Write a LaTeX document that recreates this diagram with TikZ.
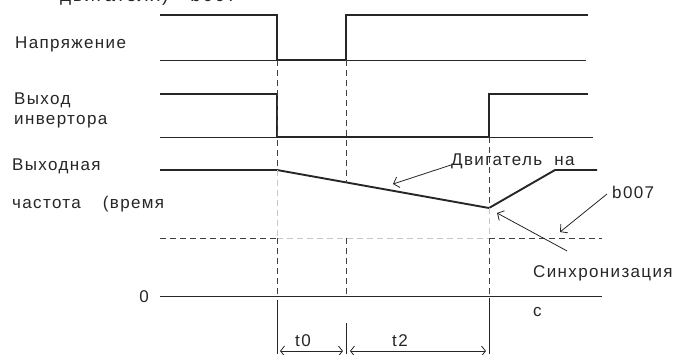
\documentclass[tikz,border=0pt]{standalone}
\usepackage{fontspec}
\setmainfont[LetterSpace=8]{Liberation Sans}
\usetikzlibrary{arrows.meta,positioning}

\begin{document}
\begin{tikzpicture}[
  x=1pt, y=-1pt,
  every node/.style={font=\fontsize{17}{19}\selectfont, inner sep=0pt, anchor=base west, text=black!85},
  sig/.style={line width=1.9pt, draw=black!85, line join=miter},
  base/.style={line width=0.9pt, draw=black!85},
  guide/.style={dash pattern=on 6pt off 4pt, line width=0.9pt, draw=black!75},
  faint/.style={dash pattern=on 6pt off 4pt, line width=0.8pt, draw=black!22},
  arr/.style={-{Straight Barb[length=5pt,width=11pt]}, line width=0.8pt, draw=black!85},
  dim/.style={{Straight Barb[length=4pt,width=10pt]}-{Straight Barb[length=4pt,width=10pt]}, line width=0.8pt, draw=black!85}
]
\useasboundingbox (0,0) rectangle (679,354);

%% Title (cut at the top)
\node[font=\fontsize{19}{21}\selectfont] (title) at (60,1) {двигателя)\hspace{22pt}b007};

%% Voltage
\node (volt) at (15,48) {Напряжение};
\draw[base] (160,60) -- (586,60);
\draw[sig] (160,15) -- (277,15) -- (277,60) -- (346,60) -- (346,15) -- (588,15);

%% Inverter output
\node (inv1) at (14,104) {Выход};
\node (inv2) at (14,124) {инвертора};
\draw[base] (160,137) -- (593,137);
\draw[sig] (160,94) -- (277,94) -- (277,137) -- (489,137) -- (489,94) -- (588,94);

%% Output frequency
\node (freq1) at (12,170) {Выходная};
\node (freq2) at (12,208) {частота\hspace{22pt}(время};
\coordinate (slope) at (393,184);
\coordinate (sync) at (497,213);
\coordinate (level) at (560,232);
\draw[sig] (160,170) -- (277,170) -- (489,208) -- (555,170) -- (597,170);
\draw[guide] (160,238) -- (277,238);
\draw[faint] (277,238) -- (489,238);
\draw[guide] (489,238) -- (602,238);

%% Zero axis
\node[anchor=base east] (zero) at (149,302) {0};
\node (unit) at (533,316) {с};
\draw[base] (160,296) -- (602,296);

%% Time marks
\draw[guide] (277,60) -- (277,170);
\draw[faint] (277,170) -- (277,238);
\draw[guide] (277,238) -- (277,296);
\draw[guide] (346,60) -- (346,183);
\draw[guide] (346,238) -- (346,296);
\draw[guide] (489,137) -- (489,208);
\draw[faint] (489,208) -- (489,238);
\draw[guide] (489,238) -- (489,296);
\draw[base] (277,300) -- (277,354);
\draw[base] (346,323) -- (346,354);
\draw[base] (489,298) -- (489,354);

%% Intervals
\node (tzero) at (295,346) {t0};
\node (ttwo) at (392,346) {t2};
\draw[dim] (280,351) -- (343,351);
\draw[dim] (350,351) -- (486,351);

%% Notes
\node (motor) at (451,165) {Двигатель\hspace{12pt}на};
\node (bsev) at (612,198) {b007};
\node (synch) at (533,277) {Синхронизация};
\draw[arr] (motor.base west) -- (slope);
\draw[arr] ([xshift=-5pt,yshift=4pt]bsev.base west) -- (level);
\draw[arr] ([xshift=34pt,yshift=14pt]synch.north west) -- (sync);

\end{tikzpicture}
\end{document}
